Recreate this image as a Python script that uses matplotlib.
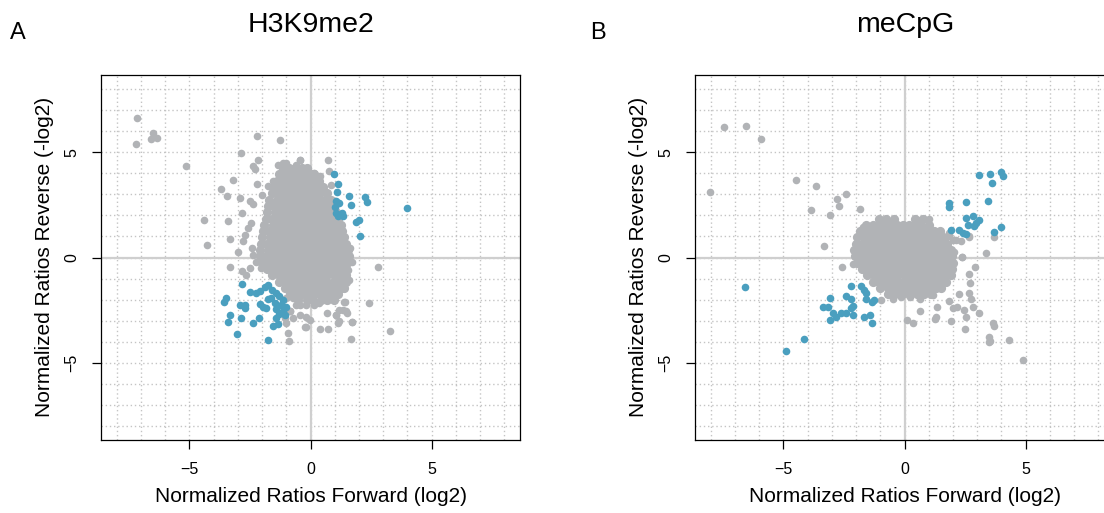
import matplotlib
matplotlib.use("Agg")
import matplotlib.pyplot as plt

plt.rcParams['font.family'] = ['Liberation Sans', 'DejaVu Sans']

GRAY = '#b1b3b6'
BLUE = '#4a9fbf'

# ---------------- panel A: H3K9me2 ----------------
# dense core, stored as rows of (y, [x values])
a_core_rows = [
    (4.25, [-1.15, -0.9, -0.6, -0.35, -0.15]),
    (3.95, [-1.3, -1.0, -0.75, -0.5, -0.25, 0.0, 0.15]),
    (3.65, [-1.4, -1.15, -0.9, -0.65, -0.4, -0.15, 0.1, 0.35]),
    (3.35, [-1.55, -1.25, -1.0, -0.75, -0.5, -0.25, 0.0, 0.25, 0.5]),
    (3.05, [-1.6, -1.35, -1.1, -0.85, -0.6, -0.35, -0.1, 0.15, 0.4, 0.7]),
    (2.75, [-1.7, -1.4, -1.15, -0.9, -0.65, -0.4, -0.15, 0.1, 0.35, 0.6, 0.85]),
    (2.45, [-1.75, -1.5, -1.25, -1.0, -0.75, -0.5, -0.25, 0.0, 0.25, 0.5, 0.75, 0.95]),
    (2.15, [-1.8, -1.45, -1.2, -0.95, -0.7, -0.45, -0.2, 0.05, 0.3, 0.55, 0.8, 1.05]),
    (1.85, [-1.85, -1.6, -1.35, -1.1, -0.85, -0.6, -0.35, -0.1, 0.15, 0.4, 0.65, 0.9, 1.15]),
    (1.55, [-1.9, -1.55, -1.3, -1.05, -0.8, -0.55, -0.3, -0.05, 0.2, 0.45, 0.7, 0.95, 1.25]),
    (1.25, [-1.95, -1.7, -1.45, -1.2, -0.95, -0.7, -0.45, -0.2, 0.05, 0.3, 0.55, 0.8, 1.05, 1.3]),
    (0.95, [-2.0, -1.65, -1.4, -1.15, -0.9, -0.65, -0.4, -0.15, 0.1, 0.35, 0.6, 0.85, 1.1, 1.4]),
    (0.65, [-2.05, -1.8, -1.55, -1.3, -1.05, -0.8, -0.55, -0.3, -0.05, 0.2, 0.45, 0.7, 0.95, 1.2, 1.45]),
    (0.35, [-2.1, -1.75, -1.5, -1.25, -1.0, -0.75, -0.5, -0.25, 0.0, 0.25, 0.5, 0.75, 1.0, 1.3, 1.55]),
    (0.05, [-2.1, -1.85, -1.6, -1.35, -1.1, -0.85, -0.6, -0.35, -0.1, 0.15, 0.4, 0.65, 0.9, 1.15, 1.4, 1.6]),
    (-0.25, [-2.0, -1.7, -1.45, -1.2, -0.95, -0.7, -0.45, -0.2, 0.05, 0.3, 0.55, 0.8, 1.05, 1.3, 1.5]),
    (-0.55, [-1.8, -1.55, -1.3, -1.05, -0.8, -0.55, -0.3, -0.05, 0.2, 0.45, 0.7, 0.95, 1.2, 1.45]),
    (-0.85, [-1.6, -1.3, -1.05, -0.8, -0.55, -0.3, -0.05, 0.2, 0.45, 0.7, 0.95, 1.2, 1.45]),
    (-1.15, [-1.3, -1.05, -0.8, -0.55, -0.3, -0.05, 0.2, 0.45, 0.7, 0.95, 1.2, 1.45]),
    (-1.45, [-1.05, -0.75, -0.5, -0.25, 0.0, 0.25, 0.5, 0.75, 1.0, 1.25, 1.4]),
    (-1.75, [-0.85, -0.6, -0.35, -0.1, 0.15, 0.4, 0.65, 0.9, 1.15]),
    (-2.0, [-0.5, -0.15, 0.1, 0.45, 0.7, 0.95]),
]

a_gray_x = [-7.15, -6.51, -6.58, -6.32, -7.2, -5.14, -2.19, -1.25, -2.87, -2.16, -2.39, -2.30,
            -0.42, 0.73, 0.78, -3.18, -3.68, -3.43, -2.92, -2.81, -4.40, -3.39, -3.33, -4.25,
            -2.98, -3.31, 2.77, 2.43, 3.29, 1.66, 1.70, 1.43, 0.74, 0.40, -0.89, -0.93, -0.18,
            -0.04, 1.06, 1.19, 1.33, 1.51, 1.62, 1.70, 1.55, 1.60, -2.19, -2.51, -2.37, -2.02,
            -1.35, -1.14, -1.03, -0.86, -0.45, -0.59, 0.41, 0.16, 0.85, -2.44, -2.58, -2.72,
            -1.76, -1.55, -2.78, -2.43, -2.37, -2.51, -2.81, -2.64, -2.24, -2.03, 1.40, 1.19,
            1.06, 1.47, 1.12, 1.72, 0.69, 0.16, 0.37, -0.18, -0.45, -0.86, -0.18, -0.45, -0.73,
            -0.21, -1.00, -0.73, -0.59, -0.86, -1.07, -1.00]
a_gray_y = [6.63, 5.92, 5.62, 5.68, 5.40, 4.34, 5.78, 5.56, 4.96, 4.61, 4.32, 4.20,
            4.65, 4.61, 4.10, 3.67, 3.23, 2.93, 2.80, 2.12, 1.80, 1.71, 0.87, 0.57,
            0.24, -0.47, -0.43, -2.18, -3.48, -3.86, -3.07, -2.10, -3.40, -3.40, -3.96, -3.56, -3.28,
            -2.96, -2.72, -2.99, -2.48, -2.64, 0.47, -0.19, -0.58, -1.06, 3.49, 2.69, 2.54, 2.98,
            4.40, 4.48, 4.48, 4.25, 4.64, 4.40, 3.88, 4.01, 3.45, 1.63, 1.40, 1.08,
            3.37, 3.61, 0.79, 0.47, 0.13, -0.50, -0.63, -0.82, -0.19, -0.50, -2.12, -2.48,
            -2.72, -2.56, -3.12, -3.07, -2.64, -2.25, -2.17, -2.25, -2.25, -2.56, -2.80, -2.72, -2.88,
            -3.28, -1.93, -1.93, -2.25, -2.56, -2.88, -3.12]

a_blue_x = [0.97, 1.14, 1.10, 1.58, 2.25, 2.32, 1.69, 1.06, 1.19, 1.01, 3.96, 1.06, 1.30,
            1.12, 1.33, 1.88, 2.02, 2.06,
            -2.84, -3.47, -3.55, -2.92, -2.72, -2.72, -2.48, -2.24, -2.10, -3.31, -3.42, -2.87,
            -2.13, -2.39, -3.03, -1.76, -1.53, -1.33, -2.10, -1.96, -1.82, -1.89, -1.75, -1.58,
            -1.41, -1.28, -1.14, -1.62, -1.76, -1.48, -1.41, -1.21, -1.14, -1.28, -1.44, -1.07, -1.00]
a_blue_y = [3.97, 3.48, 3.09, 2.94, 2.88, 2.64, 2.50, 2.66, 2.58, 2.42, 2.37, 2.11, 2.11,
            1.95, 1.98, 1.70, 1.79, 1.02,
            -1.28, -1.90, -2.12, -2.25, -2.25, -2.40, -1.63, -1.69, -1.57, -2.72, -3.04, -2.85,
            -2.86, -3.12, -3.62, -3.91, -3.23, -3.15, -2.20, -2.33, -2.40, -1.38, -1.31, -1.53,
            -1.69, -1.85, -2.01, -1.93, -1.98, -2.17, -2.45, -2.25, -2.56, -2.67, -2.88, -2.72, -2.33]

# ---------------- panel B: meCpG ----------------
b_core_rows = [
    (1.85, [-1.05, -0.75, -0.45, 0.45, 0.75]),
    (1.55, [-1.6, -1.3, -1.05, -0.8, -0.55, -0.3, -0.05, 0.2, 0.45, 0.7, 1.0]),
    (1.25, [-1.85, -1.6, -1.35, -1.1, -0.85, -0.6, -0.35, -0.1, 0.15, 0.4, 0.65, 0.9, 1.2, 1.45]),
    (0.95, [-1.95, -1.65, -1.4, -1.15, -0.9, -0.65, -0.4, -0.15, 0.1, 0.35, 0.6, 0.85, 1.1, 1.35, 1.6]),
    (0.65, [-2.0, -1.75, -1.5, -1.25, -1.0, -0.75, -0.5, -0.25, 0.0, 0.25, 0.5, 0.75, 1.0, 1.25, 1.5, 1.75]),
    (0.35, [-2.1, -1.8, -1.55, -1.3, -1.05, -0.8, -0.55, -0.3, -0.05, 0.2, 0.45, 0.7, 0.95, 1.2, 1.45, 1.7, 1.9]),
    (0.05, [-2.05, -1.8, -1.55, -1.3, -1.05, -0.8, -0.55, -0.3, -0.05, 0.2, 0.45, 0.7, 0.95, 1.2, 1.45, 1.7, 1.95]),
    (-0.25, [-1.95, -1.65, -1.4, -1.15, -0.9, -0.65, -0.4, -0.15, 0.1, 0.35, 0.6, 0.85, 1.1, 1.35, 1.6, 1.85, 2.0]),
    (-0.55, [-1.75, -1.5, -1.25, -1.0, -0.75, -0.5, -0.25, 0.0, 0.25, 0.5, 0.75, 1.0, 1.25, 1.5, 1.75, 1.95]),
    (-0.85, [-1.55, -1.25, -1.0, -0.75, -0.5, -0.25, 0.0, 0.25, 0.5, 0.75, 1.0, 1.25, 1.5, 1.7, 1.9]),
    (-1.15, [-1.3, -1.05, -0.8, -0.55, -0.3, -0.05, 0.2, 0.45, 0.7, 0.95, 1.2, 1.45, 1.7]),
    (-1.45, [-1.0, -0.7, -0.45, -0.2, 0.05, 0.3, 0.55, 0.8, 1.05, 1.3, 1.5]),
    (-1.75, [-0.7, -0.4, -0.1, 0.2, 0.5, 0.8, 1.1]),
]

b_gray_x = [-7.44, -6.52, -5.91, -8.01, -4.46, -3.67, -2.77, -2.71, -2.42, -3.84, -3.09, -1.83,
            -3.30, -2.58, -2.13, -1.72, -1.92, -1.69, -1.07, -0.66, -0.62, 0.62, 1.03, 0.75, 1.24,
            1.58, 1.85, 2.13, 2.38, 2.68, 2.90, 3.37, 3.71, 2.65, 2.72, 2.24, 2.68, 2.75, 2.81,
            3.06, 1.85, 1.35, 1.99, 2.17, 2.44, 2.54, 1.31, 1.26, 1.90, 2.48, 0.62, 0.10, 0.37,
            3.64, 3.68, 3.50, 3.54, 3.47, 4.33, 4.88, 1.17, 0.62, 0.21, -0.14, -0.48, -0.96,
            2.36, 2.06, 2.68, 2.34, 1.99, 1.65, 1.85]
b_gray_y = [6.19, 6.25, 5.60, 3.12, 3.69, 3.37, 2.79, 2.45, 3.02, 2.25, 2.01, 2.28,
            0.56, -0.46, -0.33, 1.47, 0.60, 0.49, 1.70, 1.44, 1.16, 1.79, 1.82, 1.47, 1.28,
            0.84, 1.00, 0.84, 0.02, 1.00, -0.43, 0.21, 0.97, -0.77, -1.22, -1.74, -1.69, -1.98, -2.33,
            -2.64, -2.07, -2.36, -2.40, -2.33, -2.48, -2.80, -2.80, -2.93, -3.01, -3.40, -2.55, -2.96, -3.12,
            -3.12, -3.24, -3.78, -3.94, -3.99, -3.91, -4.86, -1.77, -1.98, -1.88, -1.88, -1.98, -2.04,
            0.02, 0.28, 0.95, 0.79, 0.84, 0.92, 1.16]

b_blue_x = [-6.59, -4.89, -4.15, -3.06, -3.37, -3.16, -2.95, -3.09, -2.81, -2.61, -2.40, -2.20,
            -2.13, -2.13, -2.40, -2.20, -2.20, -1.78, -1.69, -1.58, -1.58, -1.33, -1.24, -1.65,
            -1.44, -1.33, 1.85, 1.83, 2.54, 3.09, 3.54, 3.60, 3.98, 4.05, 3.43, 1.90, 2.24, 2.40,
            2.54, 2.54, 2.81, 3.09, 2.61, 2.88, 2.95, 3.71, 3.98]
b_blue_y = [-1.41, -4.45, -3.88, -1.90, -2.37, -2.33, -2.64, -2.96, -2.83, -2.64, -2.64, -2.40,
            -2.72, -2.29, -1.85, -1.95, -1.33, -1.34, -1.53, -1.69, -1.98, -2.12, -2.04, -2.83,
            -2.73, -3.12, 2.58, 2.42, 2.61, 3.91, 3.96, 3.55, 4.08, 3.89, 2.68, 1.30, 1.30, 1.16,
            1.13, 1.87, 1.95, 1.79, 1.55, 1.51, 1.63, 1.19, 1.47]

ticks = [-5, 0, 5]
grid_at = list(range(-8, 9))

fig = plt.figure(figsize=(11.04, 5.13), dpi=100)

panels = [
    ('A', 'H3K9me2', a_core_rows, a_gray_x, a_gray_y, a_blue_x, a_blue_y, 101, 10),
    ('B', 'meCpG', b_core_rows, b_gray_x, b_gray_y, b_blue_x, b_blue_y, 695, 590),
]

for letter, title, core_rows, gx, gy, bx, by, left_px, letter_px in panels:
    ax = fig.add_axes([left_px / 1104, 1 - 440 / 513, 419 / 1104, 365 / 513])
    for g in grid_at:
        ax.axvline(g, color='#c4c4c4', lw=1.0, ls=(0, (1, 2.0)), zorder=0)
        ax.axhline(g, color='#c4c4c4', lw=1.0, ls=(0, (1, 2.0)), zorder=0)
    ax.axvline(0, color='#cfcfcf', lw=1.6, zorder=0.5)
    ax.axhline(0, color='#cfcfcf', lw=1.6, zorder=0.5)

    cx = [x for yv, xs in core_rows for x in xs]
    cy = [yv for yv, xs in core_rows for x in xs]
    ax.scatter(cx, cy, s=44, color=GRAY, lw=0, zorder=2)
    ax.scatter(gx, gy, s=30, color=GRAY, lw=0, zorder=2)
    ax.scatter(bx, by, s=30, color=BLUE, lw=0, zorder=3)

    ax.set_xlim(-8.64, 8.64)
    ax.set_ylim(-8.66, 8.66)
    ax.set_xticks(ticks)
    ax.set_yticks(ticks)
    ax.set_xticklabels(['\u22125', '0', '5'])
    ax.set_yticklabels(['\u22125', '0', '5'], rotation=90, va='center')
    ax.tick_params(direction='out', length=6.5, width=0.9, labelsize=11.5, pad=9)
    for sp in ax.spines.values():
        sp.set_linewidth(0.9)

    cxp = (left_px + 210) / 1104
    fig.text(cxp, 1 - 25 / 513, title, ha='center', va='center', fontsize=20.5)
    fig.text(letter_px / 1104, 1 - 33 / 513, letter, ha='left', va='center', fontsize=17)
    fig.text(cxp, 1 - 497 / 513, 'Normalized Ratios Forward (log2)', ha='center', va='center', fontsize=15)
    fig.text((left_px - 56) / 1104, 1 - 257 / 513, 'Normalized Ratios Reverse (-log2)',
             ha='center', va='center', rotation=90, fontsize=15)

fig.savefig('out.png', dpi=100)
